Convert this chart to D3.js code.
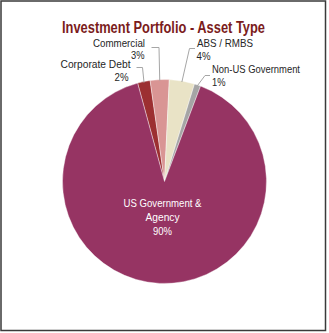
<!DOCTYPE html>
<html>
<head>
<meta charset="utf-8">
<script src="https://cdn.jsdelivr.net/npm/d3@7"></script>
<style>
  html, body { margin: 0; padding: 0; background: #fff; }
  svg { display: block; }
  .lbl { font-family: "Liberation Sans", Arial, sans-serif; }
</style>
</head>
<body>
<svg id="chart" width="329" height="333"></svg>
<script>
// ---- data ----
const categories = ["Corporate Debt", "Commercial", "ABS / RMBS", "Non-US Government", "US Government & Agency"];
const values = [2, 3, 4, 1, 90];
const pctLabels = ["2%", "3%", "4%", "1%", "90%"];
const colors = ["#9c2f31", "#d99594", "#e9e3c6", "#a5a5a5", "#963463"];
const title = "Investment Portfolio - Asset Type";

// ---- layout ----
const cx = 164.5, cy = 181.5, R = 102;
const svg = d3.select("#chart");

svg.append("rect")
  .attr("x", 1).attr("y", 1).attr("width", 324.5).attr("height", 329.5)
  .attr("fill", "#fff").attr("stroke", "#3a3a3a").attr("stroke-width", 1.5);

// condensed text helper (narrow look via textLength)
function narrowText(sel, x, y, anchor, size, width, fill, weight, txt) {
  const start = anchor === "end" ? x - width : anchor === "middle" ? x - width / 2 : x;
  return sel.append("text").attr("class", "lbl")
    .attr("x", start).attr("y", y)
    .attr("font-size", size).attr("font-weight", weight || "normal")
    .attr("fill", fill)
    .attr("textLength", width).attr("lengthAdjust", "spacingAndGlyphs")
    .text(txt);
}

narrowText(svg, 163.5, 33, "middle", 16, 203, "#7b1c1c", "bold", title);

const pie = d3.pie().sort(null).value(d => d)
  .startAngle(-15.3 * Math.PI / 180)
  .endAngle((360 - 15.3) * Math.PI / 180);
const arcs = pie(values);
const arc = d3.arc().innerRadius(0).outerRadius(R);
const edge = d3.arc().innerRadius(R - 1).outerRadius(R - 1);

const g = svg.append("g").attr("transform", `translate(${cx},${cy})`);
g.selectAll("path.slice").data(arcs).enter().append("path")
  .attr("class", "slice")
  .attr("d", arc)
  .attr("fill", (d, i) => colors[i])
  .attr("stroke", "#fff").attr("stroke-width", 0.4);

// label layout for the small slices (absolute page positions, text widths)
const labelLayout = [
  { anchor: "end",   nx: 130.5, ny: 67.5, nw: 70, px: 128.5, py: 80.7, pw: 14, e1: [136.5, 67.5], e2: [142.5, 67.5] },
  { anchor: "end",   nx: 145,   ny: 46.5, nw: 52, px: 144.5, py: 59,   pw: 13.5, e1: [151.5, 47.5], e2: [159, 47.5] },
  { anchor: "start", nx: 197,   ny: 46.5, nw: 56, px: 196.5, py: 60,   pw: 14, e1: [195, 48.5], e2: [189.5, 48.5] },
  { anchor: "start", nx: 212,   ny: 72.5, nw: 88, px: 212,   py: 85.7, pw: 13.5, e1: [210, 75.5], e2: [205, 75.5] }
];

labelLayout.forEach((L, i) => {
  const c = edge.centroid(arcs[i]);
  const end = [cx + c[0], cy + c[1]];
  svg.append("path")
    .attr("d", d3.line()([L.e1, L.e2, end]))
    .attr("fill", "none").attr("stroke", "#a6a6a6").attr("stroke-width", 1);
  narrowText(svg, L.nx, L.ny, L.anchor, 11, L.nw, "#262626", "normal", categories[i]);
  narrowText(svg, L.px, L.py, L.anchor, 11, L.pw, "#262626", "normal", pctLabels[i]);
});

// big slice label (inside)
const bigLines = ["US Government &", "Agency", pctLabels[4]];
const bigWidths = [78, 34, 19];
bigLines.forEach((t, k) => {
  narrowText(svg, 162.5, 206.7 + k * 14, "middle", 11.5, bigWidths[k], "#ffffff", "normal", t);
});
</script>
</body>
</html>
